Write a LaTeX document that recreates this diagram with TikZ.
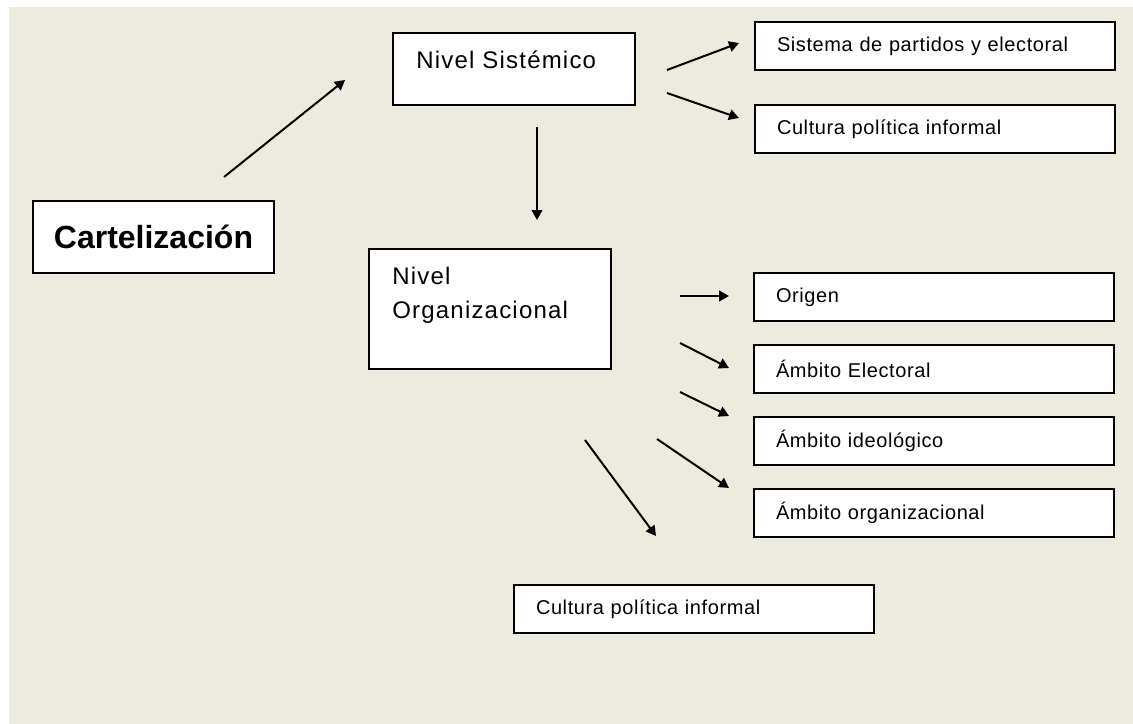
\documentclass[tikz,border=0pt]{standalone}
\usepackage{fontspec}
\setmainfont{Liberation Sans}
\newfontfamily\spacedfont[LetterSpace=5]{Liberation Sans}
\newfontfamily\cellfont[LetterSpace=3]{Liberation Sans}
\usetikzlibrary{arrows.meta,positioning}
\definecolor{pagebg}{HTML}{EDEADF}

\begin{document}
\begin{tikzpicture}[x=0.75pt, y=-0.75pt,
  mainbox/.style={draw, line width=1.5pt, fill=white, anchor=north west, minimum width=180.75pt, minimum height=54pt, align=center, font=\fontsize{24}{28}\selectfont\bfseries},
  levelbox/.style={draw, line width=1.5pt, fill=white, anchor=north west, inner ysep=0pt, inner xsep=17.5pt, text width=146.5pt, align=left, font=\spacedfont\fontsize{18}{25.5}\selectfont},
  cell/.style={draw, line width=1.5pt, fill=white, anchor=north west, inner ysep=0pt, inner xsep=16.5pt, text width=237pt, minimum height=36pt, align=left, font=\cellfont\fontsize{15}{18}\selectfont},
  arr/.style={-{Triangle[length=7.5pt, width=8pt]}, line width=1.5pt}
]
  \useasboundingbox (0,0) rectangle (1133,724);
  \fill[pagebg] (9,7) rectangle (1133,724);

  \node[mainbox] (cart) at (32,200) {Cartelización};
  \node[levelbox, text height=27pt, text depth=27pt] (sist) at (392,32) {Nivel Sistémico};
  \node[levelbox, text height=26.25pt, text depth=63.75pt] (orgn) at (368,248) {Nivel\\Organizacional};

  \node[cell] (spe) at (754,21) {Sistema de partidos y electoral};
  \node[cell] (cpi) at (754,104) {Cultura política informal};

  \node[cell] (orig) at (753,272) {Origen};
  \node[cell, below=16.5pt of orig] (elec) {Ámbito Electoral};
  \node[cell, below=16.5pt of elec] (ideo) {Ámbito ideológico};
  \node[cell, below=16.5pt of ideo] (aorg) {Ámbito organizacional};

  \node[cell] (cpib) at (513,584) {Cultura política informal};

  % free arrow ends
  \coordinate (cart-out) at (224,177);
  \coordinate (sist-in) at (345,80);
  \coordinate (sist-up) at (667,70);
  \coordinate (spe-in) at (739,43);
  \coordinate (sist-dn) at (667,93);
  \coordinate (cpi-in) at (739,118);
  \coordinate (sist-out) at (537,127);
  \coordinate (orgn-in) at (537,220);
  \coordinate (orgn-a) at (680,296);
  \coordinate (orig-in) at (729,296);
  \coordinate (orgn-b) at (680,343);
  \coordinate (elec-in) at (729,368);
  \coordinate (orgn-c) at (680,392);
  \coordinate (ideo-in) at (729,416);
  \coordinate (orgn-d) at (657,439);
  \coordinate (aorg-in) at (729,488);
  \coordinate (orgn-e) at (585,440);
  \coordinate (cpib-in) at (656,536);

  \draw[arr] (cart-out) -- (sist-in);
  \draw[arr] (sist-up) -- (spe-in);
  \draw[arr] (sist-dn) -- (cpi-in);
  \draw[arr] (sist-out) -- (orgn-in);
  \draw[arr] (orgn-a) -- (orig-in);
  \draw[arr] (orgn-b) -- (elec-in);
  \draw[arr] (orgn-c) -- (ideo-in);
  \draw[arr] (orgn-d) -- (aorg-in);
  \draw[arr] (orgn-e) -- (cpib-in);
\end{tikzpicture}
\end{document}
